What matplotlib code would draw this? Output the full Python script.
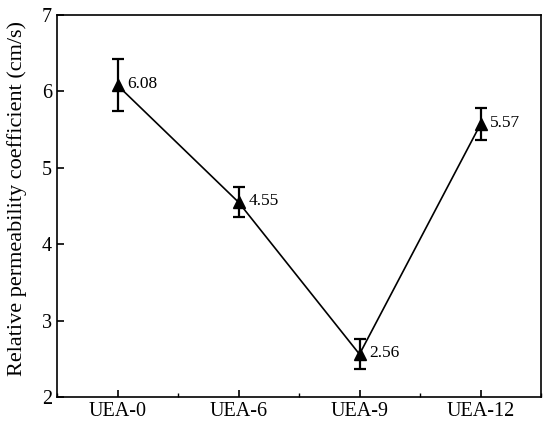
import matplotlib
matplotlib.use("Agg")
import matplotlib.pyplot as plt
from matplotlib.ticker import MultipleLocator

plt.rcParams["font.family"] = ["Liberation Serif", "DejaVu Serif"]

# data
samples = ["UEA-0", "UEA-6", "UEA-9", "UEA-12"]
positions = [1, 2, 3, 4]
coeff = [6.08, 4.55, 2.56, 5.57]
coeff_err = [0.34, 0.20, 0.20, 0.21]

fig = plt.figure(figsize=(5.5, 4.28), dpi=100)
ax = fig.add_axes([57 / 550, 31 / 428, 484 / 550, 382 / 428])

ax.errorbar(positions, coeff, yerr=coeff_err, color="black", lw=1.2,
            marker="^", ms=9, capsize=4.5, elinewidth=1.6, capthick=1.6)
for x, y in zip(positions, coeff):
    ax.annotate(f"{y:.2f}", (x, y), xytext=(7, 1), textcoords="offset points",
                va="center", ha="left", fontsize=12.5)

ax.set_xlim(0.5, 4.5)
ax.set_ylim(2, 7)
ax.set_xticks(positions)
ax.set_xticklabels(samples)
ax.xaxis.set_minor_locator(MultipleLocator(0.5))
ax.set_yticks([2, 3, 4, 5, 6, 7])
ax.tick_params(direction="in", labelsize=14.5, width=1.2, length=5)
ax.tick_params(which="minor", direction="in", width=1.0, length=3)
ax.set_ylabel("Relative permeability coefficient (cm/s)", fontsize=16)
ax.yaxis.set_label_coords(-0.062, 0.52)
for s in ax.spines.values():
    s.set_linewidth(1.2)

fig.savefig("out.png", dpi=100)
